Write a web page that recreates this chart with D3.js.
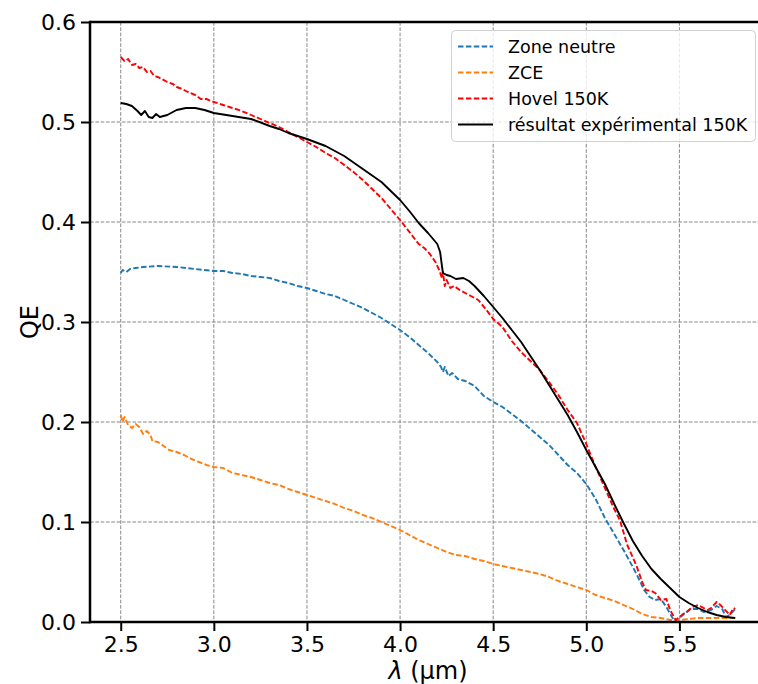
<!DOCTYPE html>
<html>
<head>
<meta charset="utf-8">
<script src="https://cdn.jsdelivr.net/npm/d3@7"></script>
<style>
  html, body { margin: 0; padding: 0; background: #fff; }
  svg { display: block; font-family: "DejaVu Sans", sans-serif; }
</style>
</head>
<body>
<svg id="chart" width="758" height="684"></svg>
<script>
// ---------------- DATA ----------------
const seriesNames = ["Zone neutre", "ZCE", "Hovel 150K", "résultat expérimental 150K"];
const xTicks = [2.5, 3.0, 3.5, 4.0, 4.5, 5.0, 5.5];
const yTicks = [0.0, 0.1, 0.2, 0.3, 0.4, 0.5, 0.6];

// Zone neutre
const wlNeutre = [2.50,2.51,2.53,2.55,2.58,2.62,2.70,2.80,2.90,3.00,3.05,3.10,3.15,3.20,3.25,3.30,3.35,3.40,3.45,3.50,3.55,3.60,3.65,3.70,3.75,3.80,3.85,3.90,3.95,4.00,4.05,4.10,4.15,4.20,4.22,4.23,4.24,4.26,4.28,4.31,4.35,4.40,4.45,4.50,4.55,4.60,4.65,4.70,4.75,4.80,4.85,4.90,4.95,5.00,5.05,5.10,5.15,5.20,5.25,5.28,5.31,5.34,5.37,5.40,5.43,5.46,5.48,5.50,5.53,5.56,5.60,5.63,5.67,5.70,5.73,5.75,5.77,5.80];
const qeNeutre = [0.349,0.352,0.350,0.353,0.354,0.355,0.356,0.355,0.353,0.351,0.351,0.349,0.348,0.346,0.345,0.344,0.341,0.339,0.336,0.334,0.331,0.328,0.326,0.322,0.318,0.314,0.309,0.304,0.298,0.292,0.285,0.277,0.269,0.260,0.255,0.250,0.255,0.246,0.249,0.243,0.241,0.236,0.226,0.220,0.215,0.208,0.201,0.193,0.185,0.177,0.167,0.157,0.149,0.138,0.123,0.104,0.088,0.072,0.055,0.044,0.032,0.025,0.022,0.023,0.015,0.005,0.000,0.004,0.009,0.013,0.013,0.010,0.012,0.016,0.013,0.005,0.007,0.013];

// ZCE
const wlZCE = [2.50,2.51,2.52,2.54,2.56,2.58,2.60,2.62,2.64,2.66,2.67,2.70,2.73,2.76,2.80,2.84,2.88,2.92,2.96,3.00,3.05,3.10,3.15,3.20,3.25,3.30,3.35,3.40,3.45,3.50,3.55,3.60,3.65,3.70,3.75,3.80,3.85,3.90,3.95,4.00,4.05,4.10,4.15,4.20,4.25,4.30,4.35,4.40,4.45,4.50,4.55,4.60,4.65,4.70,4.75,4.80,4.85,4.90,4.95,5.00,5.05,5.10,5.15,5.20,5.25,5.30,5.35,5.40,5.45,5.50,5.55,5.60,5.65,5.70,5.75,5.80];
const qeZCE = [0.207,0.200,0.205,0.197,0.194,0.198,0.195,0.188,0.191,0.187,0.181,0.180,0.176,0.172,0.170,0.167,0.163,0.160,0.157,0.155,0.154,0.149,0.147,0.145,0.142,0.139,0.137,0.133,0.130,0.127,0.124,0.121,0.118,0.114,0.111,0.107,0.104,0.100,0.096,0.092,0.087,0.082,0.078,0.074,0.070,0.067,0.066,0.063,0.061,0.058,0.056,0.054,0.052,0.050,0.048,0.045,0.041,0.038,0.035,0.032,0.027,0.024,0.021,0.017,0.013,0.008,0.005,0.004,0.002,0.002,0.003,0.004,0.004,0.004,0.004,0.004];

// Hovel 150K
const wlHovel = [2.50,2.52,2.54,2.56,2.58,2.60,2.62,2.64,2.66,2.68,2.70,2.72,2.75,2.78,2.80,2.83,2.86,2.90,2.93,2.96,3.00,3.05,3.10,3.15,3.20,3.25,3.30,3.35,3.40,3.45,3.50,3.55,3.60,3.65,3.70,3.75,3.80,3.85,3.90,3.95,4.00,4.05,4.10,4.13,4.16,4.19,4.21,4.225,4.23,4.24,4.25,4.27,4.29,4.32,4.35,4.38,4.42,4.46,4.50,4.55,4.60,4.65,4.70,4.75,4.80,4.85,4.90,4.95,5.00,5.05,5.10,5.15,5.18,5.22,5.27,5.30,5.32,5.35,5.37,5.40,5.43,5.45,5.48,5.50,5.52,5.54,5.57,5.60,5.63,5.65,5.67,5.70,5.72,5.74,5.77,5.79,5.80];
const qeHovel = [0.565,0.561,0.563,0.557,0.558,0.554,0.555,0.550,0.551,0.546,0.545,0.543,0.540,0.538,0.535,0.533,0.530,0.527,0.523,0.523,0.520,0.517,0.514,0.511,0.507,0.503,0.499,0.495,0.490,0.485,0.480,0.475,0.469,0.464,0.457,0.450,0.442,0.433,0.424,0.413,0.402,0.390,0.378,0.374,0.368,0.360,0.352,0.344,0.350,0.336,0.342,0.334,0.336,0.332,0.329,0.326,0.322,0.313,0.303,0.295,0.281,0.270,0.261,0.252,0.240,0.227,0.212,0.199,0.178,0.155,0.134,0.113,0.102,0.077,0.056,0.040,0.032,0.031,0.029,0.022,0.023,0.012,0.002,0.005,0.008,0.010,0.015,0.017,0.014,0.012,0.014,0.020,0.017,0.013,0.007,0.014,0.013];

// résultat expérimental 150K
const wlExp = [2.50,2.53,2.56,2.59,2.61,2.63,2.65,2.67,2.69,2.71,2.73,2.75,2.78,2.80,2.85,2.90,2.95,3.00,3.10,3.20,3.30,3.35,3.40,3.45,3.50,3.60,3.70,3.80,3.90,4.00,4.05,4.10,4.15,4.20,4.215,4.23,4.25,4.27,4.30,4.34,4.37,4.40,4.45,4.50,4.55,4.60,4.65,4.70,4.75,4.80,4.85,4.90,4.95,5.00,5.05,5.10,5.15,5.20,5.25,5.30,5.35,5.40,5.45,5.50,5.55,5.60,5.65,5.70,5.75,5.80];
const qeExp = [0.519,0.518,0.516,0.511,0.507,0.511,0.505,0.504,0.508,0.505,0.506,0.507,0.510,0.512,0.514,0.514,0.512,0.509,0.506,0.503,0.496,0.493,0.489,0.486,0.483,0.476,0.466,0.453,0.440,0.422,0.411,0.399,0.389,0.378,0.370,0.349,0.347,0.346,0.343,0.344,0.341,0.336,0.326,0.315,0.304,0.292,0.280,0.266,0.252,0.237,0.222,0.207,0.190,0.172,0.155,0.138,0.118,0.099,0.081,0.066,0.053,0.043,0.034,0.025,0.019,0.014,0.010,0.007,0.005,0.004];

// ---------------- CHART ----------------
const series = [
  {name: seriesNames[0], x: wlNeutre, y: qeNeutre, color: "#1f77b4", dash: "5.5,2.4"},
  {name: seriesNames[1], x: wlZCE,    y: qeZCE,    color: "#ff7f0e", dash: "5.5,2.4"},
  {name: seriesNames[2], x: wlHovel,  y: qeHovel,  color: "#ff0000", dash: "5.5,2.4"},
  {name: seriesNames[3], x: wlExp,    y: qeExp,    color: "#000000", dash: null}
];

const svg = d3.select("#chart");
const mLeft = 90, mRight = 766, mTop = 22, mBottom = 622;

const x = d3.scaleLinear().domain([2.335, 5.965]).range([mLeft, mRight]);
const y = d3.scaleLinear().domain([0, 0.6]).range([mBottom, mTop]);

// grid
const grid = svg.append("g");
grid.selectAll("line.gx").data(xTicks).enter().append("line")
  .attr("x1", d => x(d)).attr("x2", d => x(d)).attr("y1", mTop).attr("y2", mBottom)
  .attr("stroke", "#888").attr("stroke-width", 1).attr("stroke-dasharray", "3.7,1.6");
grid.selectAll("line.gy").data(yTicks).enter().append("line")
  .attr("y1", d => y(d)).attr("y2", d => y(d)).attr("x1", mLeft).attr("x2", mRight)
  .attr("stroke", "#888").attr("stroke-width", 1).attr("stroke-dasharray", "3.7,1.6");

// lines
const line = d3.line().x(d => x(d[0])).y(d => y(d[1]));
series.forEach(s => {
  const pts = s.x.map((v, i) => [v, s.y[i]]);
  const p = svg.append("path").datum(pts)
    .attr("d", line).attr("fill", "none")
    .attr("stroke", s.color).attr("stroke-width", 1.9)
    .attr("stroke-linejoin", "round");
  if (s.dash) p.attr("stroke-dasharray", s.dash);
});

// axes
const xAxis = d3.axisBottom(x).tickValues(xTicks).tickFormat(d3.format(".1f")).tickSize(9).tickPadding(5);
const yAxis = d3.axisLeft(y).tickValues(yTicks).tickFormat(d3.format(".1f")).tickSize(9).tickPadding(5);

const gx = svg.append("g").attr("transform", `translate(0,${mBottom})`).call(xAxis);
const gy = svg.append("g").attr("transform", `translate(${mLeft},0)`).call(yAxis);
[gx, gy].forEach(g => {
  g.select(".domain").remove();
  g.selectAll(".tick line").attr("stroke", "#000").attr("stroke-width", 2);
  g.selectAll(".tick text").attr("font-size", 22).attr("font-family", "DejaVu Sans").attr("fill", "#000");
});

// spines
svg.append("line").attr("x1", mLeft).attr("x2", mLeft).attr("y1", mTop - 1.2).attr("y2", mBottom + 1.2)
  .attr("stroke", "#000").attr("stroke-width", 2.5);
svg.append("line").attr("x1", mLeft).attr("x2", mRight).attr("y1", mBottom).attr("y2", mBottom)
  .attr("stroke", "#000").attr("stroke-width", 2.5);
svg.append("line").attr("x1", mLeft).attr("x2", mRight).attr("y1", mTop).attr("y2", mTop)
  .attr("stroke", "#000").attr("stroke-width", 2.5);
svg.append("line").attr("x1", mRight).attr("x2", mRight).attr("y1", mTop).attr("y2", mBottom)
  .attr("stroke", "#000").attr("stroke-width", 2.5);

// axis labels
const xl = svg.append("text").attr("x", (mLeft + mRight) / 2).attr("y", 679)
  .attr("text-anchor", "middle").attr("font-size", 24).attr("fill", "#000");
xl.append("tspan").attr("font-style", "italic").text("λ");
xl.append("tspan").text(" (µm)");

svg.append("text").attr("transform", `translate(38,${(mTop + mBottom) / 2}) rotate(-90)`)
  .attr("text-anchor", "middle").attr("font-size", 24).attr("fill", "#000").text("QE");

// legend
const lg = svg.append("g");
lg.append("rect").attr("x", 451.5).attr("y", 30.5).attr("width", 304).attr("height", 111)
  .attr("rx", 4).attr("fill", "#fff").attr("fill-opacity", 0.8)
  .attr("stroke", "#d0d0d0").attr("stroke-width", 1);
const rowY = [46.5, 72.5, 98.5, 124.5];
series.forEach((s, i) => {
  const l = lg.append("line").attr("x1", 458).attr("x2", 493).attr("y1", rowY[i]).attr("y2", rowY[i])
    .attr("stroke", s.color).attr("stroke-width", 1.9);
  if (s.dash) l.attr("stroke-dasharray", s.dash);
  lg.append("text").attr("x", 508).attr("y", rowY[i] + 6.3).attr("font-size", 17.5)
    .attr("fill", "#000").text(s.name);
});
</script>
</body>
</html>
